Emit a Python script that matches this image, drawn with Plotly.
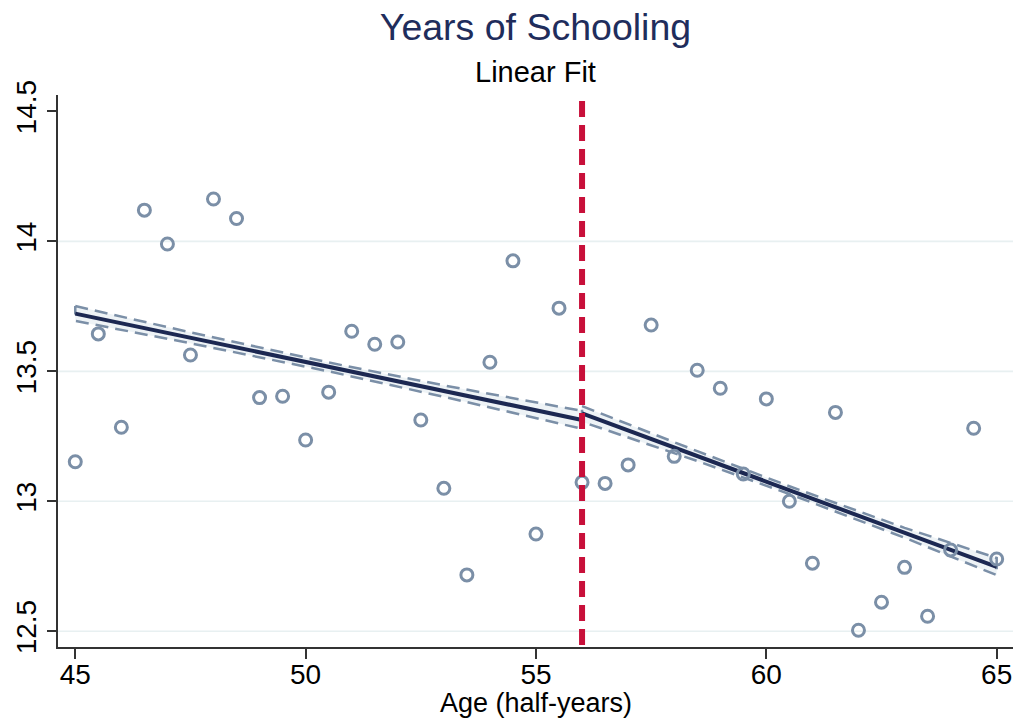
import plotly.graph_objects as go

# ---- data ----
age = [45, 45.5, 46, 46.5, 47, 47.5, 48, 48.5, 49, 49.5, 50, 50.5, 51, 51.5, 52, 52.5,
       53, 53.5, 54, 54.5, 55, 55.5, 56, 56.5, 57, 57.5, 58, 58.5, 59, 59.5, 60, 60.5,
       61, 61.5, 62, 62.5, 63, 63.5, 64, 64.5, 65]
schooling = [13.152, 13.644, 13.285, 14.120, 13.990, 13.563, 14.163, 14.088, 13.399, 13.404,
             13.236, 13.420, 13.654, 13.604, 13.613, 13.313, 13.050, 12.717, 13.535, 13.925,
             12.874, 13.743, 13.073, 13.069, 13.140, 13.678, 13.173, 13.504, 13.435, 13.105,
             13.394, 13.000, 12.762, 13.342, 12.504, 12.612, 12.746, 12.558, 12.813, 13.281,
             12.778]

# fitted lines (left / right of cutoff)
fit_left_x = [45, 56]
fit_left_y = [13.722, 13.313]
fit_right_x = [56, 65]
fit_right_y = [13.338, 12.748]

# confidence bands read at several ages
ci_left_x = [45, 47.5, 50.5, 53, 56]
ci_left_hi = [13.751, 13.650, 13.534, 13.446, 13.348]
ci_left_lo = [13.694, 13.608, 13.500, 13.402, 13.279]
ci_right_x = [56, 58.5, 60.5, 63, 65]
ci_right_hi = [13.366, 13.193, 13.058, 12.898, 12.782]
ci_right_lo = [13.306, 13.155, 13.028, 12.860, 12.716]

cutoff = 56
x_ticks = [45, 50, 55, 60, 65]
y_ticks = [12.5, 13, 13.5, 14, 14.5]
y_tick_text = ["12.5", "13", "13.5", "14", "14.5"]

# ---- styles ----
FONT = "Liberation Sans, Arial, sans-serif"
MARK = "#7b8fa7"
NAVY = "#1c2852"
CI_FILL = "rgba(205,220,228,0.35)"
RED = "#c8103a"
GRID = "#e8f0f1"
AXIS = "#333333"

W, H = 1019, 724
ML, MR, MT, MB = 58, 6, 95, 77
plot_h = H - MT - MB

fig = go.Figure()

def band(xs, hi, lo):
    return go.Scatter(
        x=list(xs) + list(xs)[::-1] + [xs[0]],
        y=list(hi) + list(lo)[::-1] + [hi[0]],
        mode="lines", fill="toself", fillcolor=CI_FILL,
        line=dict(color=MARK, width=2.5, dash="13px,7px"),
        hoverinfo="skip", showlegend=False)

fig.add_trace(band(ci_left_x, ci_left_hi, ci_left_lo))
fig.add_trace(band(ci_right_x, ci_right_hi, ci_right_lo))

for fx, fy in [(fit_left_x, fit_left_y), (fit_right_x, fit_right_y)]:
    fig.add_trace(go.Scatter(x=fx, y=fy, mode="lines",
                             line=dict(color=NAVY, width=4),
                             showlegend=False, hoverinfo="skip"))

fig.add_trace(go.Scatter(x=age, y=schooling, mode="markers",
                         marker=dict(symbol="circle-open", size=12,
                                     line=dict(color=MARK, width=3), color=MARK),
                         showlegend=False))

shapes = []
for t in y_ticks[:-1]:
    shapes.append(dict(type="line", xref="paper", x0=0, x1=1, yref="y", y0=t, y1=t,
                       line=dict(color=GRID, width=1.6), layer="below"))
shapes.append(dict(type="line", xref="x", x0=cutoff, x1=cutoff, yref="paper",
                   y0=(H - MB - 101) / plot_h, y1=0,
                   line=dict(color=RED, width=6, dash="16px,8px"), layer="above"))

fig.update_layout(
    width=W, height=H,
    margin=dict(l=ML, r=MR, t=MT, b=MB, pad=0),
    paper_bgcolor="white", plot_bgcolor="white",
    font=dict(family=FONT, color="black"),
    title=dict(text="Years of Schooling", x=0.5, xref="paper", xanchor="center",
               y=1 - 27 / H, yref="container", yanchor="middle",
               font=dict(size=37.5, color="#1f2d5c", family=FONT)),
    annotations=[
        dict(text="Linear Fit", xref="paper", x=0.5, xanchor="center",
             yref="paper", y=1 + (MT - 72) / plot_h, yanchor="middle",
             showarrow=False, font=dict(size=29, color="black", family=FONT)),
        dict(text="Age (half-years)", xref="paper", x=0.5, xanchor="center",
             yref="paper", y=-(703 - (H - MB)) / plot_h, yanchor="middle",
             showarrow=False, font=dict(size=27, color="black", family=FONT)),
    ],
    shapes=shapes,
    xaxis=dict(range=[44.625, 65.354], tickvals=x_ticks, ticks="outside", ticklen=10,
               tickwidth=1.5, tickcolor=AXIS, showline=True, linecolor=AXIS, linewidth=2,
               showgrid=False, zeroline=False, ticklabelstandoff=-9,
               tickfont=dict(size=28, color="black", family=FONT)),
    yaxis=dict(range=[12.4396, 14.563], tickvals=y_ticks, ticktext=y_tick_text,
               tickangle=-90, ticks="outside", ticklen=9, tickwidth=1.5, tickcolor=AXIS,
               showline=True, linecolor=AXIS, linewidth=2, showgrid=False, zeroline=False,
               tickfont=dict(size=28, color="black", family=FONT)),
)

fig.write_html("out.html")
